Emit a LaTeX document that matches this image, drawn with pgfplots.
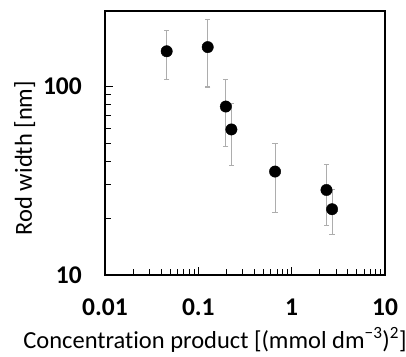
\documentclass[border=0pt]{standalone}
\usepackage{fontspec}
\setmainfont{Carlito}[Ligatures={NoCommon}]
\usepackage{pgfplots}
\pgfplotsset{compat=1.18}
\usetikzlibrary{calc}
\pgfplotstableread{
x y ep em
0.0458 153 45 44
0.126 161 64 62
0.197 78 30 30
0.226 59 22 21
0.664 35.3 14.2 13.8
2.36 28.2 10.3 10
2.71 22.3 6.2 5.9
}\datatable
\begin{document}
\begin{tikzpicture}
\begin{axis}[
 xmode=log, ymode=log,
 scale only axis, width=280pt, height=264pt,
 xmin=0.01, xmax=10, ymin=10, ymax=250,
 xtick={0.01,0.1,1,10}, xticklabels={0.01,0.1,1,10},
 ytick={10,100}, yticklabels={10,100},
 tick pos=left, tick align=inside,
 major tick length=8pt, minor tick length=6pt,
 axis line style={line width=1.5pt},
 every tick/.style={black, line width=1pt},
 ticklabel style={font=\fontsize{25.5}{30}\selectfont\bfseries},
 xticklabel style={anchor=base, yshift=-40pt},
 yticklabel style={anchor=east, inner sep=0pt},
 yticklabel shift=23pt,
 xlabel={Concentration product [(mmol dm\textsuperscript{−3})\textsuperscript{2}]},
 ylabel={Rod width [nm]},
 label style={font=\fontsize{24.5}{28}\selectfont},
 xlabel style={at={($(rel axis cs:0.5,0)+(-30pt,-73pt)$)}, anchor=base},
 ylabel style={at={($(rel axis cs:0,0.5)+(-73pt,-15pt)$)}, anchor=base},
 clip=false,
]
\addplot[only marks, mark=*, mark size=5.7pt, black,
  error bars/.cd, y dir=both, y explicit,
  error bar style={black!32, line width=1.1pt},
  error mark options={rotate=90, mark size=2.6pt, black!32, line width=1.1pt}]
  table[x=x, y=y, y error plus=ep, y error minus=em] {\datatable};
\path (rel axis cs:0,0) ++(-105pt,-81pt) coordinate (bl);
\path (rel axis cs:1,1) ++(21pt,11pt) coordinate (tr);
\end{axis}
\pgfresetboundingbox
\path (bl) rectangle (tr);
\end{tikzpicture}
\end{document}
